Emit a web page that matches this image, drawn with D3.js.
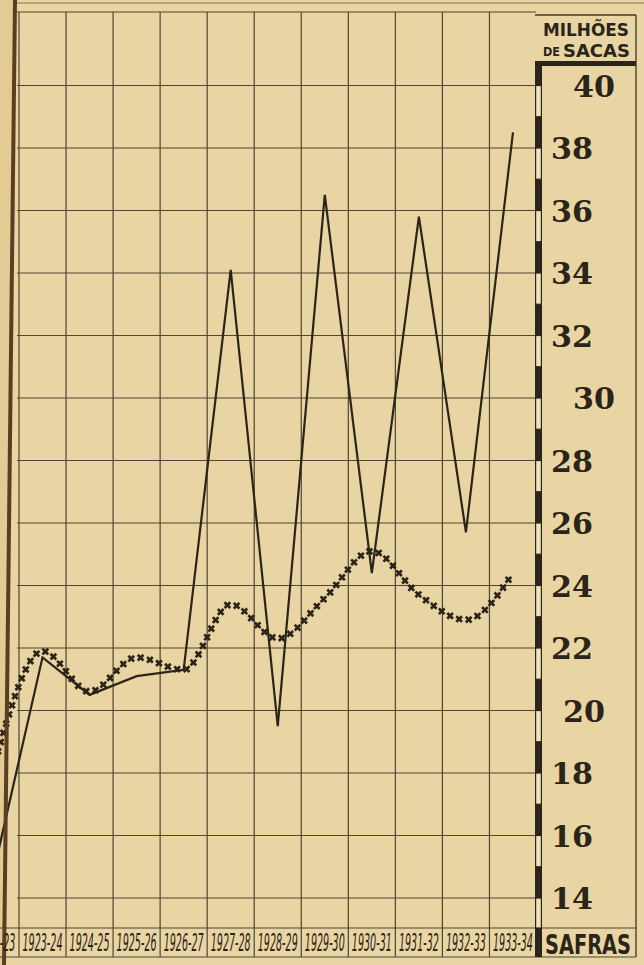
<!DOCTYPE html>
<html>
<head>
<meta charset="utf-8">
<script src="https://cdn.jsdelivr.net/npm/d3@7"></script>
<style>
  html, body { margin: 0; padding: 0; background: #e9d5a3; }
  svg { display: block; }
</style>
</head>
<body>
<svg id="chart"></svg>
<script>
// Safras (colheitas) e valores em milhões de sacas
var safras = ['1922-23', '1923-24', '1924-25', '1925-26', '1926-27', '1927-28',
              '1928-29', '1929-30', '1930-31', '1931-32', '1932-33', '1933-34'];
// linha cheia
var producao = [15.1, 21.7, 20.5, 21.1, 21.3, 34.1, 19.5, 36.5, 24.4, 35.8, 25.7, 38.5];
// linha pontilhada
var tendencia = [18.4, 21.9, 20.6, 21.7, 21.3, 23.4, 22.3, 23.6, 25.1, 23.7, 22.9, 24.4];
// rótulos do eixo
var yTicks = [14, 16, 18, 20, 22, 24, 26, 28, 30, 32, 34, 36, 38, 40];
var tickIndent = { 40: 22, 30: 22, 20: 12 };

var W = 644, H = 965;
var paper = '#e9d5a3', ink = '#2b2419', gridInk = '#3e3627';
var narrow = 'Liberation Sans Narrow, DejaVu Sans Condensed, sans-serif';

var svg = d3.select('#chart').attr('width', W).attr('height', H);

// escalas
var x = d3.scaleBand().domain(safras).range([19 - 47.05, 536.5]).padding(0);
var y = d3.scaleLinear().domain([14, 38]).range([898, 148]);
var cx = function(d, i) { return x(safras[i]) + x.bandwidth() / 2; };

// texto comprimido para caber numa largura (escala horizontal)
function fitText(sel, width) {
  sel.each(function() {
    var t = d3.select(this);
    var w = this.getComputedTextLength();
    var tx = +t.attr('x'), ty = +t.attr('y');
    t.attr('x', 0).attr('y', 0)
      .attr('transform', 'translate(' + tx + ',' + ty + ') scale(' + (width / w) + ',1)');
  });
}

// fundo
svg.append('rect').attr('width', W).attr('height', H).attr('fill', paper);
svg.append('path')
  .attr('d', 'M0,0 L13,0 L3,' + H + ' L0,' + H + ' Z')
  .attr('fill', '#e3cb95');

// linha superior
svg.append('line').attr('x1', 15).attr('x2', W).attr('y1', 3).attr('y2', 3)
  .attr('stroke', gridInk).attr('stroke-width', 1).attr('opacity', 0.6);

// grade
var grid = svg.append('g').attr('stroke', gridInk).attr('stroke-width', 1.2).attr('opacity', 0.9);
safras.slice(1).forEach(function(s) {
  grid.append('line').attr('x1', x(s)).attr('x2', x(s)).attr('y1', 12).attr('y2', 957);
});
yTicks.forEach(function(v) {
  grid.append('line').attr('x1', 17).attr('x2', 536).attr('y1', y(v)).attr('y2', y(v));
});
grid.append('line').attr('x1', 17).attr('x2', 536).attr('y1', 12).attr('y2', 12);
grid.append('line').attr('x1', 0).attr('x2', 636).attr('y1', 928).attr('y2', 928);
grid.append('line').attr('x1', 0).attr('x2', 636).attr('y1', 957).attr('y2', 957);

// coluna da direita
var col = svg.append('g');
col.append('line').attr('x1', 636).attr('x2', 636).attr('y1', 15).attr('y2', 957)
  .attr('stroke', gridInk).attr('stroke-width', 1.3);
col.append('line').attr('x1', 535).attr('x2', 636).attr('y1', 15).attr('y2', 15)
  .attr('stroke', gridInk).attr('stroke-width', 1.3);
col.append('rect').attr('x', 535).attr('y', 61).attr('width', 101).attr('height', 5).attr('fill', ink);

// régua do eixo (segmentos pretos e brancos de 1 em 1)
var ruler = svg.append('g');
d3.range(13, 41).forEach(function(v) {
  var top = Math.max(y(v + 1), 64), bot = Math.min(y(v), 928);
  if (bot <= top) return;
  if (v % 2 === 0) {
    ruler.append('rect').attr('x', 535).attr('y', top).attr('width', 7).attr('height', bot - top).attr('fill', ink);
  } else {
    ruler.append('rect').attr('x', 535.6).attr('y', top).attr('width', 5.8).attr('height', bot - top)
      .attr('fill', '#f1e2bb').attr('stroke', ink).attr('stroke-width', 1.2);
  }
});
ruler.append('rect').attr('x', 535).attr('y', 928).attr('width', 7).attr('height', 29).attr('fill', ink);

// linha cheia
var line = d3.line().x(cx).y(function(d) { return y(d); });
svg.append('path').datum(producao)
  .attr('d', line)
  .attr('fill', 'none').attr('stroke', ink).attr('stroke-width', 2.2)
  .attr('stroke-linejoin', 'miter');

// linha pontilhada: marcas em cruz ao longo da curva
var curve = d3.line().x(cx).y(function(d) { return y(d); }).curve(d3.curveMonotoneX);
var guide = svg.append('path').datum(tendencia).attr('d', curve)
  .attr('fill', 'none').attr('stroke', 'none');
var node = guide.node(), total = node.getTotalLength();
var pts = d3.range(0, total, 9.6).map(function(l) { return node.getPointAtLength(l); })
  .filter(function(p) { return p.x > -3; });
var cross = d3.symbol().type(d3.symbolCross).size(36);
svg.append('g').selectAll('path').data(pts).join('path')
  .attr('d', cross)
  .attr('transform', function(p) { return 'translate(' + p.x + ',' + p.y + ') rotate(45)'; })
  .attr('fill', ink);

// lombada (borda esquerda)
svg.append('line').attr('x1', 15).attr('y1', 0).attr('x2', 4).attr('y2', H)
  .attr('stroke', '#5b3d22').attr('stroke-width', 4);

// rótulos do eixo y
svg.append('g').selectAll('text').data(yTicks).join('text')
  .attr('x', function(v) { return 551 + (tickIndent[v] || 0); })
  .attr('y', function(v) { return y(v) + 1; })
  .attr('dominant-baseline', 'central')
  .attr('font-family', 'DejaVu Serif, serif')
  .attr('font-weight', 'bold')
  .attr('font-size', 30)
  .attr('fill', ink)
  .text(function(v) { return v; })
  .call(fitText, 42);

// cabeçalho
var head = svg.append('g').attr('fill', ink).attr('font-weight', 'bold').attr('font-family', narrow);
head.append('text').attr('x', 543).attr('y', 36).attr('font-size', 18).text('MILHÕES').call(fitText, 86);
head.append('text').attr('x', 543).attr('y', 56).attr('font-size', 13).text('DE').call(fitText, 17);
head.append('text').attr('x', 563).attr('y', 57).attr('font-size', 18).text('SACAS').call(fitText, 67);

// rótulos das safras
svg.append('g').selectAll('text').data(safras).join('text')
  .attr('x', function(s) { return x(s) + x.bandwidth() / 2 - 20; })
  .attr('y', 951)
  .attr('font-family', narrow)
  .attr('font-style', 'italic')
  .attr('font-size', 25)
  .attr('fill', ink)
  .text(function(s) { return s; })
  .call(fitText, 40);

svg.append('text').attr('x', 545).attr('y', 954)
  .attr('font-family', narrow)
  .attr('font-weight', 'bold').attr('font-size', 26)
  .attr('fill', ink).text('SAFRAS')
  .call(fitText, 86);
</script>
</body>
</html>
